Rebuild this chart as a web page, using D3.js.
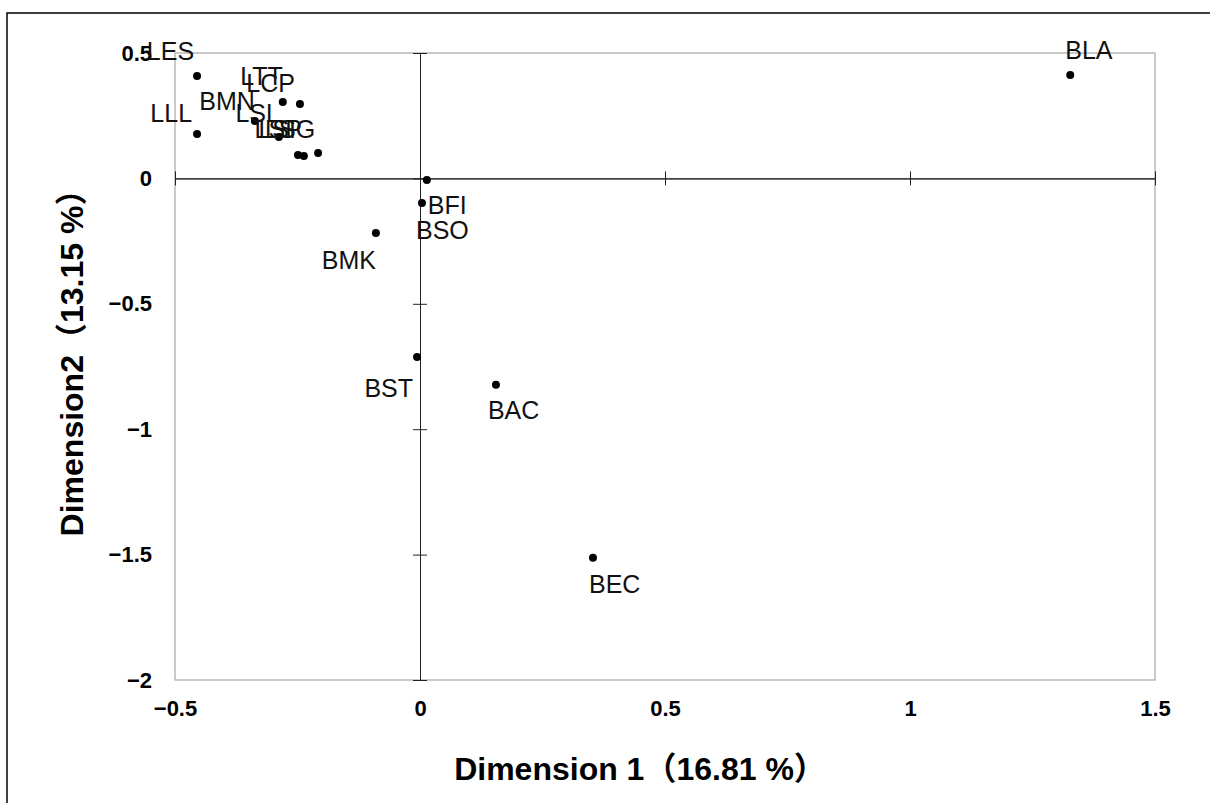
<!DOCTYPE html>
<html>
<head>
    <meta charset="utf-8">
    <title>Dimension plot</title>
    <script src="https://d3js.org/d3.v7.min.js"></script>
    <style>
      body { margin: 0; background: #fff; }
      .frame { fill: none; stroke: #000; stroke-width: 1.5; }
      .plot-border { fill: none; stroke: #a6a6a6; stroke-width: 1.2; }
      .zero-axis path, .zero-axis line { stroke: #222; stroke-width: 1; }
      .tick-labels text { font-family: 'Liberation Sans', Arial, sans-serif; font-size: 22px; font-weight: bold; fill: #000; }
      .pt-label { font-family: 'Liberation Sans', Arial, sans-serif; font-size: 25px; fill: #111; }
      .axis-title { font-family: 'Liberation Sans', Arial, 'Noto Sans CJK JP', sans-serif; font-size: 32px; font-weight: bold; fill: #000; }
    </style>
</head>
<body>
    <svg width="1210" height="803"></svg>
    <script>
        // point names and coordinates
        const names = ["LES", "LLL", "LTT", "LCP", "BMN", "LSL", "LSI", "LSP", "LSG",
                       "BLA", "BFI", "BSO", "BMK", "BST", "BAC", "BEC"];
        const dim1 = [-0.455, -0.455, -0.280, -0.245, -0.337, -0.288, -0.249, -0.237, -0.208,
                      1.327, 0.014, 0.004, -0.090, -0.006, 0.155, 0.353];
        const dim2 = [0.408, 0.177, 0.305, 0.297, 0.229, 0.165, 0.093, 0.089, 0.101,
                      0.412, -0.006, -0.098, -0.218, -0.712, -0.823, -1.513];

        const xTicks = [-0.5, 0, 0.5, 1, 1.5];
        const yTicks = [0.5, 0, -0.5, -1, -1.5, -2];

        const xTitle = "Dimension 1（16.81 %）";
        const yTitle = "Dimension2（13.15 %）";

        // manual label placement, like the hand-moved labels in the original
        const labelPlace = {
            LES: ["end", -3, -16], LLL: ["end", -5, -12], LTT: ["end", 0, -17],
            LCP: ["end", -5, -12], BMN: ["end", 0, -11], LSL: ["end", 1, -15],
            LSI: ["end", -2, -17], LSP: ["end", -2, -18], LSG: ["end", -3, -15],
            BLA: ["start", -5, -16], BFI: ["start", 1, 34], BSO: ["start", -6, 36],
            BMK: ["end", 0, 36], BST: ["end", -4, 40], BAC: ["start", -8, 34],
            BEC: ["start", -4, 35]
        };

        let margin = {top: 53, right: 55, bottom: 123, left: 175},
            width = 1210 - margin.left - margin.right,
            height = 803 - margin.top - margin.bottom;

        let root = d3.select("svg");

        // outer chart frame (runs off the right and bottom)
        root.append("rect")
            .attr("class", "frame")
            .attr("x", 7).attr("y", 13)
            .attr("width", 1300).attr("height", 900);

        let svg = root.append("g")
                      .attr("transform", `translate(${margin.left},${margin.top})`);

        let x = d3.scaleLinear().domain([-0.5, 1.5]).range([0, width]);
        let y = d3.scaleLinear().domain([-2, 0.5]).range([height, 0]);

        svg.append("rect")
           .attr("class", "plot-border")
           .attr("width", width)
           .attr("height", height);

        // zero lines with crossing ticks
        [d3.axisBottom, d3.axisTop].forEach(ax => {
            svg.append("g")
               .attr("class", "zero-axis")
               .attr("transform", `translate(0,${y(0)})`)
               .call(ax(x).tickValues(xTicks).tickSizeInner(7).tickSizeOuter(0).tickFormat(""));
        });
        [d3.axisLeft, d3.axisRight].forEach(ax => {
            svg.append("g")
               .attr("class", "zero-axis")
               .attr("transform", `translate(${x(0)},0)`)
               .call(ax(y).tickValues(yTicks).tickSizeInner(7).tickSizeOuter(0).tickFormat(""));
        });

        // tick labels at the plot edges
        let fmt = d3.format("~g");
        let xl = svg.append("g")
           .attr("class", "tick-labels")
           .attr("transform", `translate(0,${height})`)
           .call(d3.axisBottom(x).tickValues(xTicks).tickSize(0).tickPadding(20).tickFormat(fmt));
        xl.select(".domain").remove();

        let yl = svg.append("g")
           .attr("class", "tick-labels")
           .call(d3.axisLeft(y).tickValues(yTicks).tickSize(0).tickPadding(23).tickFormat(fmt));
        yl.select(".domain").remove();

        // points
        let pts = names.map((n, i) => ({name: n, d1: dim1[i], d2: dim2[i]}));

        svg.selectAll("circle.pt")
           .data(pts)
           .join("circle")
           .attr("class", "pt")
           .attr("cx", d => x(d.d1))
           .attr("cy", d => y(d.d2))
           .attr("r", 4)
           .attr("fill", "#000");

        svg.selectAll("text.pt-label")
           .data(pts)
           .join("text")
           .attr("class", "pt-label")
           .attr("x", d => x(d.d1) + labelPlace[d.name][1])
           .attr("y", d => y(d.d2) + labelPlace[d.name][2])
           .attr("text-anchor", d => labelPlace[d.name][0])
           .text(d => d.name);

        // axis titles
        root.append("text")
            .attr("class", "axis-title")
            .attr("x", 640).attr("y", 780)
            .attr("text-anchor", "middle")
            .text(xTitle);

        root.append("text")
            .attr("class", "axis-title")
            .attr("transform", "translate(83,355) rotate(-90)")
            .attr("text-anchor", "middle")
            .text(yTitle);
    </script>
</body>
</html>
